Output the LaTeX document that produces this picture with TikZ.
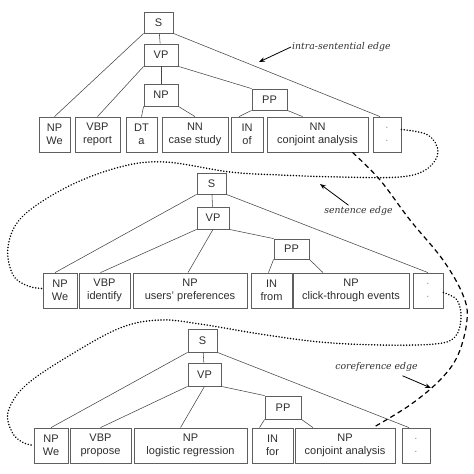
\documentclass[tikz,border=0pt]{standalone}
\usepackage{fontspec}
\setmainfont{Liberation Sans}
\newfontfamily\labelfont{DejaVu Serif}
\usetikzlibrary{arrows.meta,calc}
\definecolor{boxgray}{RGB}{95,95,95}
\definecolor{textcol}{RGB}{45,45,45}
\definecolor{edgecol}{RGB}{70,70,70}
\definecolor{dotcol}{RGB}{150,150,150}
\begin{document}
\begin{tikzpicture}[x=1pt,y=-1pt,
  box/.style={draw=boxgray, line width=0.8pt, rectangle, inner sep=0pt, align=center,
              font=\fontsize{11}{13.5}\selectfont, text=textcol},
  tedge/.style={draw=edgecol, line width=0.55pt},
  sedge/.style={draw=black, line width=1.7pt, dash pattern=on 0.01pt off 2.9pt, line cap=round},
  cedge/.style={draw=black, line width=1.2pt, dash pattern=on 5pt off 3.5pt},
  lbl/.style={font=\labelfont\itshape\fontsize{9.3}{11}\selectfont, inner sep=1pt, text=textcol},
  arr/.style={draw=black, line width=0.8pt, -{Stealth[length=6pt,width=4.5pt]}}]
\useasboundingbox (0,0) rectangle (474,474);

% ---------- sentence 1 ----------
\node[box, minimum width=29pt, minimum height=21pt] (s1) at (158.5,22.5) {S};
\node[box, minimum width=34pt, minimum height=22pt] (vp1) at (161,55) {VP};
\node[box, minimum width=34pt, minimum height=22pt] (np1) at (161,95) {NP};
\node[box, minimum width=35pt, minimum height=21pt] (pp1) at (269.5,99.5) {PP};
\node[box, minimum width=31pt, minimum height=35pt] (w1) at (54.5,134.5) {NP\\We};
\node[box, minimum width=45pt, minimum height=35pt] (vbp1) at (97.5,134.5) {VBP\\report};
\node[box, minimum width=31pt, minimum height=35pt] (dt1) at (141.5,134.5) {DT\\a};
\node[box, minimum width=66pt, minimum height=35pt] (nn1) at (195,134.5) {NN\\case study};
\node[box, minimum width=32pt, minimum height=35pt] (in1) at (247,134.5) {IN\\of};
\node[box, minimum width=101pt, minimum height=35pt] (nn2) at (317.5,134.5) {NN\\conjoint analysis};
\node[box, minimum width=28pt, minimum height=35pt, text=dotcol] (dot1) at (387,134.5) {.\\.};

\draw[tedge] (s1.south west) -- (w1.north);
\draw[tedge] (s1) -- (vp1);
\draw[tedge] (s1.south east) -- ([xshift=-7pt]dot1.north);
\draw[tedge] (vp1.south west) -- (vbp1.north);
\draw[tedge] (vp1) -- (np1);
\draw[tedge] (vp1.south east) -- (pp1.north west);
\draw[tedge] (np1.south west) -- (dt1.north);
\draw[tedge] (np1.south east) -- (nn1.north);
\draw[tedge] (pp1.south west) -- ([xshift=-8pt]in1.north);
\draw[tedge] (pp1.south east) -- ([xshift=-15pt]nn2.north);

% ---------- sentence 2 ----------
\node[box, minimum width=29pt, minimum height=21pt] (s2) at (211.5,183.5) {S};
\node[box, minimum width=32pt, minimum height=22pt] (vp2) at (213,218) {VP};
\node[box, minimum width=35pt, minimum height=20pt] (pp2) at (291.5,249) {PP};
\node[box, minimum width=34pt, minimum height=35pt] (w2) at (60,290.5) {NP\\We};
\node[box, minimum width=51pt, minimum height=35pt] (vbp2) at (104.5,290.5) {VBP\\identify};
\node[box, minimum width=114pt, minimum height=35pt] (np2) at (190,290.5) {NP\\users' preferences};
\node[box, minimum width=41pt, minimum height=35pt] (in2) at (271.5,290.5) {IN\\from};
\node[box, minimum width=116pt, minimum height=35pt] (np3) at (351,290.5) {NP\\click-through events};
\node[box, minimum width=30pt, minimum height=35pt, text=dotcol] (dot2) at (428,290.5) {.\\.};

\draw[tedge] (s2.south west) -- ([xshift=-5pt]w2.north);
\draw[tedge] (s2) -- (vp2);
\draw[tedge] (s2.south east) -- (dot2.north);
\draw[tedge] (vp2.south west) -- ([xshift=-4pt]vbp2.north);
\draw[tedge] (vp2.south) -- ([xshift=-2pt]np2.north);
\draw[tedge] (vp2.south east) -- (pp2.north west);
\draw[tedge] (pp2.south west) -- ([xshift=-3pt]in2.north);
\draw[tedge] (pp2.south east) -- ([xshift=-28pt]np3.north);

% ---------- sentence 3 ----------
\node[box, minimum width=29pt, minimum height=23pt] (s3) at (202.5,340.5) {S};
\node[box, minimum width=33pt, minimum height=23pt] (vp3) at (204.5,374.5) {VP};
\node[box, minimum width=36pt, minimum height=23pt] (pp3) at (283,407.5) {PP};
\node[box, minimum width=34pt, minimum height=35pt] (w3) at (51,445.5) {NP\\We};
\node[box, minimum width=61pt, minimum height=35pt] (vbp3) at (100.5,445.5) {VBP\\propose};
\node[box, minimum width=113pt, minimum height=35pt] (np4) at (190.5,445.5) {NP\\logistic regression};
\node[box, minimum width=41pt, minimum height=35pt] (in3) at (272.5,445.5) {IN\\for};
\node[box, minimum width=100pt, minimum height=35pt] (np5) at (345,445.5) {NP\\conjoint analysis};
\node[box, minimum width=28pt, minimum height=35pt, text=dotcol] (dot3) at (416,445.5) {.\\.};

\draw[tedge] (s3.south west) -- (w3.north);
\draw[tedge] (s3) -- (vp3);
\draw[tedge] (s3.south east) -- ([xshift=-7pt]dot3.north);
\draw[tedge] (vp3.south west) -- (vbp3.north);
\draw[tedge] (vp3.south) -- ([xshift=-10pt]np4.north);
\draw[tedge] (vp3.south east) -- (pp3.north west);
\draw[tedge] (pp3.south west) -- ([xshift=-13pt]in3.north);
\draw[tedge] (pp3.south east) -- ([xshift=-32pt]np5.north);

% ---------- sentence edges ----------
\draw[sedge] plot[smooth, tension=0.6] coordinates {
  ([yshift=5pt]dot1.east) (428,135) (438,152) (427,169) (400,177) (340,177)
  (280,175) (230,172) (165,162) (120,167) (67,187) (22,217) (8,247)
  (13,275) (28,286) ([yshift=2pt]w2.west)};
\draw[sedge] plot[smooth, tension=0.6] coordinates {
  ([yshift=-2pt]dot2.east) (457,300) (461,318) (455,337) (435,344) (380,345)
  (320,342) (260,334) (200,324) (160,320) (120,328) (67,357) (25,386)
  (8,412) (12,432) (22,442) (w3.west)};

% ---------- coreference edge ----------
\draw[cedge] plot[smooth, tension=0.6] coordinates {
  ([xshift=35pt]nn2.south) (380,180) (410,220) (443,260) (463,295) (467,320)
  (458,355) (440,380) (410,405) ([xshift=28pt]np5.north)};

% ---------- labels ----------
\node[lbl, anchor=west] (l1) at (291,47) {intra-sentential edge};
\coordinate (a1) at (259,62);
\draw[arr] (l1.west) -- (a1);

\node[lbl] (l2) at (358.5,211) {sentence edge};
\coordinate (a2) at (320,184);
\draw[arr] ([xshift=-10pt]l2.north) -- (a2);

\node[lbl] (l3) at (376.5,367) {coreference edge};
\coordinate (a3) at (431,388);
\draw[arr] ([xshift=26pt,yshift=-3pt]l3.south) -- (a3);
\end{tikzpicture}
\end{document}
